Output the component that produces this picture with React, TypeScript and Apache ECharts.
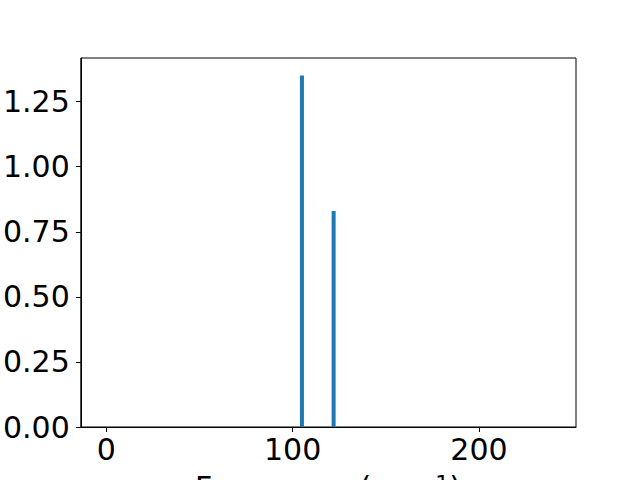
import React, { useEffect, useRef } from "react";
import * as echarts from "echarts";

const freqs = [105, 122];
const intensities = [1.35, 0.83];
const xTicks = [0, 100, 200];
const yTicks = [0, 0.25, 0.5, 0.75, 1.0, 1.25];
const xLabel = "Frequency (cm";

export default function App() {
  const ref = useRef<HTMLDivElement>(null);
  useEffect(() => {
    if (!ref.current) return;
    const chart = echarts.init(ref.current, null, { renderer: "svg" });
    const font = "DejaVu Sans";
    chart.setOption({
      animation: false,
      grid: {
        left: 80,
        right: 64,
        top: 58,
        bottom: 53,
        show: true,
        borderColor: "#000",
        borderWidth: 1,
        backgroundColor: "transparent",
      },
      xAxis: {
        type: "value",
        min: -13.7,
        max: 252.1,
        splitLine: { show: false },
        axisLine: { show: true, onZero: false, lineStyle: { color: "#000", width: 1 } },
        axisTick: { show: true, length: 5, customValues: xTicks, lineStyle: { color: "#000" } },
        axisLabel: {
          customValues: xTicks,
          color: "#000",
          fontFamily: font,
          fontSize: 30,
          margin: 7,
        },
      },
      yAxis: {
        type: "value",
        min: 0,
        max: 1.4175,
        splitLine: { show: false },
        axisLine: { show: true, onZero: false, lineStyle: { color: "#000", width: 1 } },
        axisTick: { show: true, length: 5, customValues: yTicks, lineStyle: { color: "#000" } },
        axisLabel: {
          customValues: yTicks,
          color: "#000",
          fontFamily: font,
          fontSize: 30,
          margin: 11,
          formatter: (v: number) => v.toFixed(2),
        },
      },
      graphic: [
        {
          type: "text",
          left: 195,
          top: 472,
          style: {
            text: "{a|" + xLabel + "}{s|−1}{a|)}",
            rich: {
              a: { fontFamily: font, fontSize: 30, fill: "#000", verticalAlign: "bottom", lineHeight: 30 },
              s: { fontFamily: font, fontSize: 22, fill: "#000", verticalAlign: "top", lineHeight: 21, padding: [0, 0, 16, 0] },
            },
            fill: "#000",
          },
        },
      ],
      series: [
        {
          type: "bar",
          barWidth: 4,
          itemStyle: { color: "#1f77b4" },
          data: freqs.map((f, i) => [f, intensities[i]]),
        },
      ],
    });
    return () => chart.dispose();
  }, []);
  return <div ref={ref} style={{ width: 640, height: 480, position: "absolute", left: 0, top: 0 }} />;
}
